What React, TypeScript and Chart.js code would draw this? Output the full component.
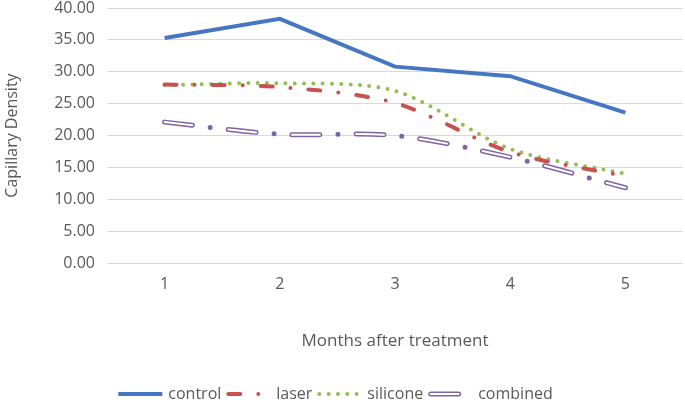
import React, { useEffect, useRef } from "react";
import { Chart, registerables } from "chart.js";

Chart.register(...registerables);

const categories = ["1", "2", "3", "4", "5"];
const control = [35.3, 38.3, 30.8, 29.3, 23.6];
const laser = [28.0, 27.6, 25.1, 17.4, 13.6];
const silicone = [27.9, 28.2, 27.0, 17.9, 14.0];
const combined = [22.1, 20.2, 20.0, 16.6, 11.8];
const yTicks = [0, 5, 10, 15, 20, 25, 30, 35, 40];
const legendNames = ["control", "laser", "silicone", "combined"];

const FONT = "'Open Sans', sans-serif";
const TEXT = "#595959";

const legendPlugin = {
  id: "excelLegend",
  afterDraw(chart: any) {
    const ctx = chart.ctx;
    const datasets = chart.data.datasets;
    ctx.save();
    ctx.font = `16px ${FONT}`;
    const sampleW = 50;
    const lineLen = 44;
    const gap = 5;
    const widths = legendNames.map((n) => ctx.measureText(n).width);
    const total = widths.reduce((a, b) => a + b, 0) + legendNames.length * sampleW + (legendNames.length - 1) * gap;
    let x = chart.width / 2 - 7 - total / 2;
    const y = chart.height - 9;
    legendNames.forEach((name, i) => {
      const ds = datasets.find((d: any) => d.label === name);
      const start = ds.borderCapStyle === "round" ? x + ds.borderWidth / 2 : x;
      ctx.save();
      ctx.strokeStyle = ds.borderColor;
      ctx.lineWidth = ds.borderWidth;
      ctx.lineCap = ds.borderCapStyle || "butt";
      ctx.setLineDash(ds.borderDash || []);
      ctx.beginPath();
      ctx.moveTo(start, y);
      ctx.lineTo(x + lineLen, y);
      ctx.stroke();
      if (name === "combined") {
        const inner = datasets.find((d: any) => d.label === "combined-inner");
        ctx.strokeStyle = inner.borderColor;
        ctx.lineWidth = inner.borderWidth;
        ctx.lineCap = inner.borderCapStyle;
        ctx.setLineDash(inner.borderDash);
        ctx.beginPath();
        ctx.moveTo(start, y);
        ctx.lineTo(x + lineLen, y);
        ctx.stroke();
      }
      ctx.restore();
      ctx.fillStyle = TEXT;
      ctx.textBaseline = "middle";
      ctx.textAlign = "left";
      ctx.fillText(name, x + sampleW, y);
      x += sampleW + widths[i] + gap;
    });
    ctx.restore();
  },
};

export default function App() {
  const ref = useRef<HTMLCanvasElement | null>(null);
  useEffect(() => {
    if (!ref.current) return;
    const chart = new Chart(ref.current, {
      type: "line",
      data: {
        labels: categories,
        datasets: [
          {
            label: "control",
            data: control,
            borderColor: "#4676C2",
            backgroundColor: "#4676C2",
            borderWidth: 4,
            pointRadius: 0,
            tension: 0,
            order: 0,
          },
          {
            label: "laser",
            data: laser,
            borderColor: "#C8504D",
            backgroundColor: "#C8504D",
            borderWidth: 4,
            borderDash: [12, 18, 0, 18],
            borderCapStyle: "round",
            pointRadius: 0,
            tension: 0.3,
            order: 1,
          },
          {
            label: "silicone",
            data: silicone,
            borderColor: "#8FBF4F",
            backgroundColor: "#8FBF4F",
            borderWidth: 4,
            borderDash: [0, 9.3],
            borderCapStyle: "round",
            pointRadius: 0,
            tension: 0.3,
            order: 2,
          },
          {
            label: "combined",
            data: combined,
            borderColor: "#8064A2",
            backgroundColor: "#8064A2",
            borderWidth: 5,
            borderDash: [28, 18, 0, 18],
            borderCapStyle: "round",
            pointRadius: 0,
            tension: 0.3,
            order: 4,
          },
          {
            label: "combined-inner",
            data: combined,
            borderColor: "#ffffff",
            borderWidth: 2,
            borderDash: [28, 36],
            borderCapStyle: "round",
            pointRadius: 0,
            tension: 0.3,
            order: 3,
          },
        ],
      },
      options: {
        animation: false,
        responsive: true,
        maintainAspectRatio: false,
        layout: { padding: { top: 8, right: 2, left: 0, bottom: 30 } },
        plugins: {
          tooltip: { enabled: false },
          legend: { display: false },
        },
        scales: {
          x: {
            offset: true,
            grid: { display: false, drawTicks: false, offset: true },
            border: { display: false },
            ticks: { color: TEXT, font: { family: FONT, size: 16 }, padding: 12 },
            title: {
              display: true,
              text: "Months after treatment",
              color: TEXT,
              font: { family: FONT, size: 17 },
              padding: { top: 0, bottom: 22 },
            },
            afterFit: (scale: any) => {
              scale.height = 110;
              scale.paddingLeft = 0;
              scale.paddingRight = 0;
            },
          },
          y: {
            min: 0,
            max: 40,
            afterBuildTicks: (scale: any) => {
              scale.ticks = yTicks.map((v) => ({ value: v }));
            },
            grid: { color: "#D9D9D9", lineWidth: 1, drawTicks: false },
            border: { display: false },
            ticks: {
              color: TEXT,
              font: { family: FONT, size: 16 },
              padding: 12,
              callback: (v: any) => Number(v).toFixed(2),
            },
            title: {
              display: true,
              text: "Capillary Density",
              color: TEXT,
              font: { family: FONT, size: 16 },
              padding: { top: 3, bottom: 0 },
            },
            afterFit: (scale: any) => {
              scale.width = 107;
              scale.paddingTop = 0;
              scale.paddingBottom = 0;
            },
          },
        },
      },
      plugins: [legendPlugin],
    });
    return () => chart.destroy();
  }, []);
  return (
    <div style={{ position: "fixed", left: 0, top: 0, width: 685, height: 403, background: "#fff" }}>
      <canvas ref={ref} />
    </div>
  );
}
